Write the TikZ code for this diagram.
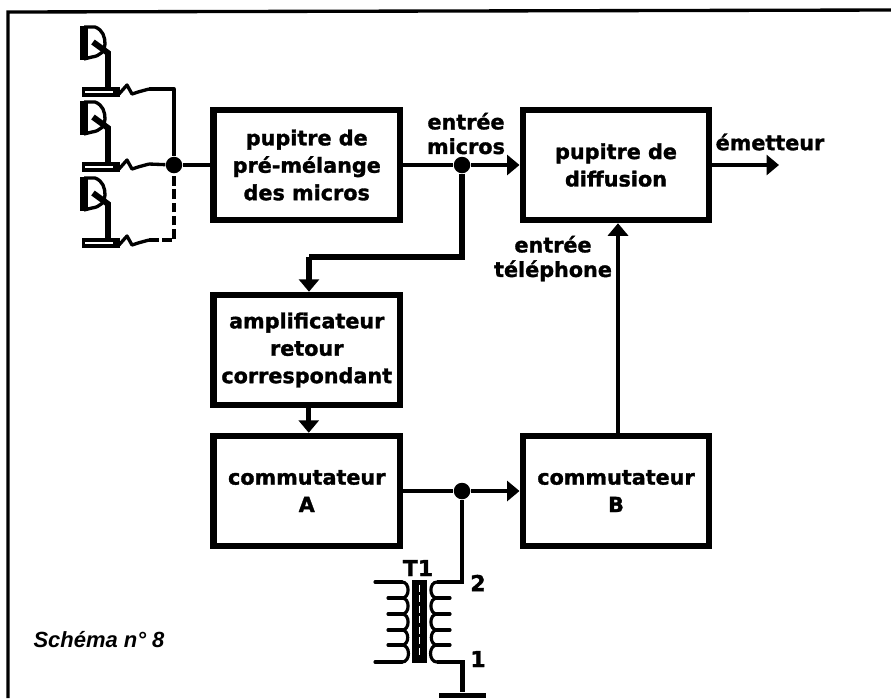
\documentclass[tikz,border=0pt]{standalone}
\usepackage{fontspec}
\setmainfont[BoldFeatures={FakeBold=1.5}]{DejaVu Sans}
\newfontfamily\captionfont{Liberation Sans}
\usetikzlibrary{arrows.meta}
\tikzset{
    % Blocks
    blockbox/.style={rectangle, draw=black, fill=white, line width=3.7pt,
                minimum width=3.73cm, minimum height=2.2cm, inner sep=0pt, align=center,
                font=\fontsize{11.8}{15.6}\selectfont\bfseries},
    lbl/.style={inner sep=0pt, align=center,
                font=\fontsize{11.8}{14}\selectfont\bfseries},
    bigsym/.style={inner sep=0pt, font=\fontsize{12.5}{14}\selectfont\bfseries},
    % Connectors
    wire/.style={line width=2.3pt, black},
    warrow/.style={wire, -{Triangle[length=2.5mm, width=4mm]}},
    dot/.style={circle, fill=black, inner sep=0pt, minimum size=0.33cm},
    % Microphones and transformer
    micwire/.style={line width=1.9pt, black, line join=round},
    coil/.style={line width=1.8pt, black, line cap=round},
}
\begin{document}
\begin{tikzpicture}[x=0.02cm, y=-0.02cm]
\useasboundingbox (0,0) rectangle (891,698);

% frame
\draw[line width=1.9pt] (8,698) -- (8,12) -- (891,10);

% blocks
\node[blockbox] (premix) at (306.75,165) {pupitre de\\pré-mélange\\des micros};
\node[blockbox] (diff)   at (616,165)    {pupitre de\\diffusion};
\node[blockbox] (amp)    at (306.75,350) {amplificateur\\retour\\correspondant};
\node[blockbox] (comma)  at (306.75,491) {commutateur\\A};
\node[blockbox] (commb)  at (616,491)    {commutateur\\B};

% junctions
\node[dot] (j0) at (174,165) {};
\node[dot] (j1) at (462,165) {};
\node[dot] (j2) at (462,491) {};
\coordinate (bend) at (309,257);
\coordinate (tx) at (779,165);

\draw[wire] (j0) -- (premix);
\draw[wire] (premix) -- (j1);
\draw[warrow] (j1) -- (diff);
\draw[warrow] (diff) -- (tx);
\draw[wire, line width=3pt] (j1) |- (bend);
\draw[warrow, line width=3pt] (bend) -- (bend |- amp.north);
\draw[warrow, line width=3pt] ([xshift=0.04cm]amp.south) -- ([xshift=0.04cm]comma.north);
\draw[wire] (comma) -- (j2);
\draw[warrow] (j2) -- (commb);
\draw[warrow] ([xshift=0.04cm]commb.north) -- ([xshift=0.04cm]diff.south);

% microphones
\foreach \i/\p in {1/92,2/167,3/243}{
    \fill (82,\p-5) rectangle (120,\p+5);
    \draw[white, line width=0.7pt] (85,\p) -- (113,\p);
    \draw[line width=4.5pt] (84,\p-66) -- (84,\p-32);
    \draw[micwire] (84,\p-65) -- (95,\p-65) .. controls (103,\p-62) and (105,\p-55) .. (105,\p-48)
        .. controls (105,\p-41) and (100,\p-36) .. (92,\p-35) -- (84,\p-33);
    \draw[line width=3.4pt] (93,\p-50) -- (108,\p-39) -- (108,\p-4);
    \draw[micwire] (119,\p+2) -- (127,\p-7) -- (132,\p+2) -- (138,\p) -- (149,\p-3);
    \coordinate (m\i) at (149,\p-3);
}
\draw[micwire] (m1) -| (j0);
\draw[micwire] (m2) -- (j0);
\draw[micwire, dash pattern=on 5.5pt off 2pt] (m3) -| (j0);

% transformer
\node[fill=black, minimum width=0.3cm, minimum height=1.66cm, inner sep=0pt] (core) at (419.5,621.5) {};
\draw[white, line width=1pt, dash pattern=on 4pt off 2pt] (core.north) ++(0,5) -- ([yshift=0.1cm]core.south);
\foreach \ya/\yb in {582/598,598/614,614/630,630/645,645/662}{
    \draw[coil] (402,\ya) to[out=0, in=0, looseness=1.3] (402,\yb);
    \draw[coil] (437,\ya) to[out=180, in=180, looseness=1.3] (437,\yb);
}
\foreach \y in {598,614,630,645}{
    \draw[coil] (388,\y) -- (402,\y);
    \draw[coil] (437,\y) -- (450,\y);
}
\draw[coil] (375,582) -- (402,582);
\draw[coil] (375,662) -- (402,662);
\coordinate (t2) at (437,582);
\coordinate (t1) at (437,662);
\node[fill=black, minimum width=0.94cm, minimum height=0.1cm, inner sep=0pt] (gnd) at (462.5,695) {};
\draw[wire] (j2) |- (t2);
\draw[wire] (t1) -| (gnd);

% labels
\node[lbl] (lmic) at (466,133.5) {entrée\\micros};
\node[lbl] (ltel) at (553,258.5) {entrée\\téléphone};
\node[lbl] (lem)  at (770,142)   {émetteur};
\node[bigsym] (lt1) at (418,568) {T1};
\node[bigsym] (l2)  at (478,583) {2};
\node[bigsym] (l1)  at (478,659) {1};
\node[inner sep=0pt, font=\fontsize{12.5}{16}\selectfont\captionfont\bfseries\itshape] (cap) at (99,640) {Schéma n° 8};
\end{tikzpicture}
\end{document}
